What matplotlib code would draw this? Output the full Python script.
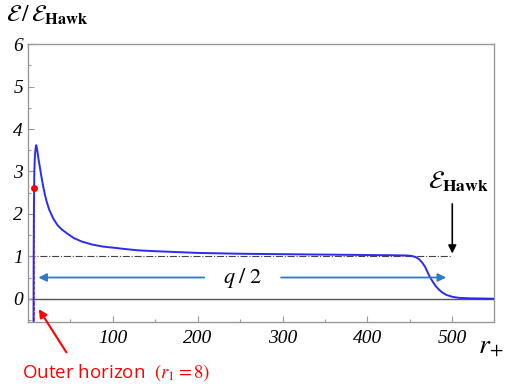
import matplotlib
matplotlib.use("Agg")
import matplotlib.pyplot as plt
from matplotlib.ticker import MultipleLocator

plt.rcParams["mathtext.fontset"] = "stix"

# energy curve
r_plus = [6.5, 6.7, 7.0, 7.5, 8.0, 8.5, 9.0, 9.7, 10.5, 11.5, 12.5, 14, 16, 18, 20, 22, 25, 30,
          35, 40, 46, 54, 63, 75, 88, 102, 115, 130, 150, 175, 200, 250, 300, 350, 400, 430,
          445, 452, 457, 461, 465, 468, 471, 474, 477, 480, 484, 488, 493, 500, 508, 520, 549]
eps_ratio = [-0.8, 1.0, 2.2, 3.0, 3.3, 3.45, 3.55, 3.62, 3.55, 3.42, 3.28, 3.1, 2.86, 2.64,
             2.45, 2.29, 2.1, 1.88, 1.73, 1.63, 1.54, 1.43, 1.35, 1.28, 1.23, 1.2, 1.17, 1.14,
             1.12, 1.1, 1.08, 1.06, 1.05, 1.04, 1.03, 1.025, 1.02, 1.01, 0.98, 0.93, 0.84,
             0.75, 0.62, 0.5, 0.4, 0.31, 0.22, 0.15, 0.09, 0.045, 0.02, 0.01, 0.0]

horizon_r = 6.8
horizon_eps = 2.6
hawk_level = 1.0
x_ticks = [100, 200, 300, 400, 500]
y_ticks = [0, 1, 2, 3, 4, 5, 6]

fig = plt.figure(figsize=(5.06, 3.88), dpi=100)
ax = fig.add_axes([0.0553, 0.170, 0.9207, 0.716])

ax.plot(r_plus, eps_ratio, color="#2B2BF5", lw=1.4, zorder=3)
ax.plot([horizon_r], [horizon_eps], "o", color="red", ms=4, zorder=4)
ax.plot([horizon_r + 0.6, horizon_r + 0.6], [horizon_eps, -0.55], color="#E05050", lw=0.7,
        ls="--", zorder=2)

ax.axhline(0, color="#555555", lw=1.0, zorder=1)
ax.plot([0, 500], [hawk_level, hawk_level], color="#444444", lw=0.8, ls="-.", zorder=1)

# q/2 arrows
ax.annotate("", xy=(9, 0.5), xytext=(211, 0.5),
            arrowprops=dict(arrowstyle="-|>", color="#2A7BC8", lw=1.3, mutation_scale=12))
ax.annotate("", xy=(496, 0.5), xytext=(295, 0.5),
            arrowprops=dict(arrowstyle="-|>", color="#2A7BC8", lw=1.3, mutation_scale=12))
ax.text(253, 0.5, r"$q\;/\;2$", fontsize=16, ha="center", va="center")

# Hawking level marker
ax.annotate("", xy=(500, 1.0), xytext=(500, 2.3),
            arrowprops=dict(arrowstyle="-|>", color="black", lw=1.2, mutation_scale=12))
ax.text(507, 2.75, r"$\mathcal{E}_{\mathbf{Hawk}}$", fontsize=18, ha="center", va="center")

# outer horizon note
ax.annotate("", xy=(11, -0.19), xytext=(47, -1.32),
            arrowprops=dict(arrowstyle="-|>", color="red", lw=1.5, mutation_scale=12),
            annotation_clip=False)
fig.text(0.043, 0.041, r"Outer horizon  $(r_1 = 8)$", color="red", fontsize=13.5,
         family="Open Sans", ha="left", va="center")

ax.set_xlim(0, 549)
ax.set_ylim(-0.55, 6)
ax.set_xticks(x_ticks)
ax.set_yticks(y_ticks)
ax.xaxis.set_minor_locator(MultipleLocator(50))
ax.yaxis.set_minor_locator(MultipleLocator(0.5))
ax.tick_params(which="both", direction="in", color="#999999", length=4, width=0.8)
ax.tick_params(which="minor", length=2.5)
for lab in ax.get_xticklabels() + ax.get_yticklabels():
    lab.set_fontfamily("Liberation Serif")
    lab.set_fontstyle("italic")
    lab.set_fontsize(14)
ax.tick_params(axis="x", pad=6)
for s in ax.spines.values():
    s.set_color("#999999")
    s.set_linewidth(1.0)

fig.text(0.012, 0.962, r"$\mathcal{E}\,/\,\mathcal{E}_{\mathbf{Hawk}}$", fontsize=17,
         ha="left", va="center")
fig.text(0.945, 0.112, r"$r_{\!+}$", fontsize=20, ha="left", va="center")

fig.savefig("out.png", dpi=100)
